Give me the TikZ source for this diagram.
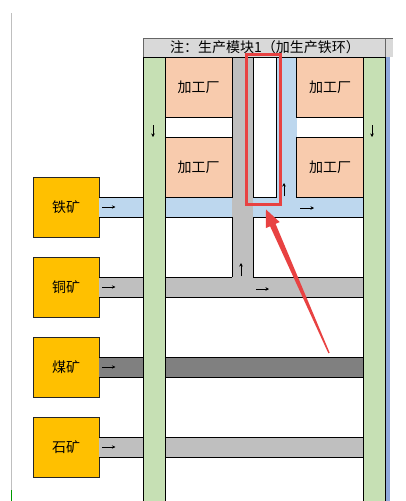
\documentclass[tikz,border=0pt]{standalone}
\usepackage{fontspec}
\setmainfont{Noto Sans CJK SC}
\usetikzlibrary{calc,positioning,arrows.meta}
\definecolor{hdgray}{RGB}{217,217,217}
\definecolor{lanegreen}{RGB}{198,224,180}
\definecolor{plantpeach}{RGB}{248,203,173}
\definecolor{roadblue}{RGB}{189,215,238}
\definecolor{roadgray}{RGB}{191,191,191}
\definecolor{roaddark}{RGB}{128,128,128}
\definecolor{mineorange}{RGB}{255,192,0}
\definecolor{edgeblue}{RGB}{142,169,219}
\definecolor{markred}{RGB}{232,66,66}
\tikzset{
  cellline/.style={draw=black,line width=0.9pt},
  cjkfont/.style={font=\fontsize{14}{16}\selectfont},
  minebox/.style={draw=black!85,line width=0.9pt,fill=mineorange,minimum width=66pt,
    minimum height=60pt,inner sep=0pt,cjkfont},
  plantbox/.style={draw=black,line width=0.9pt,fill=plantpeach,minimum width=67pt,
    minimum height=60pt,inner sep=0pt,cjkfont},
  flow/.style={draw=black,line width=0.6pt,-{Stealth[length=3.5pt,width=3.5pt]}},
}
% feeder road left of the green lane, plus the mine box
\newcommand{\mine}[4]{%
  \node[minebox] (#1) at (66,{#2+10}) {#3};
  \fill[#4] (#1.east |- 0,#2) rectangle (143,{#2+20});
  \fill[#4] (165,#2) rectangle (363,{#2+20});
  \draw[cellline] (#1.east |- 0,#2) -- (143,#2) (#1.east |- 0,{#2+20}) -- (143,{#2+20});
  \draw[flow] ($(#1.east)+(3,0)$) -- ++(13,0);
}

\begin{document}
\begin{tikzpicture}[x=1pt,y=-1pt]
  \useasboundingbox (0,0) rectangle (405,501);
  \draw[black!25,line width=1pt] (11.5,13) -- (11.5,490);
  \draw[green!60!black,line width=1pt] (11.5,490) -- (11.5,501);
  % header
  \fill[hdgray] (143,38) rectangle (393,57);
  \draw[black!60,line width=0.6pt] (143,57) -- (143,38) -- (393,38);
  \draw[black!60,line width=0.6pt] (385,38) -- (385,57);
  \node[cjkfont] (note) at (265,47.5) {注：生产模块1（加生产铁环）};
  % lanes and roads
  \fill[lanegreen] (143,57) rectangle (165,501);
  \fill[lanegreen] (363,57) rectangle (385,501);
  \fill[edgeblue] (385,57) rectangle (390,501);
  \mine{iron}{197}{铁矿}{roadblue}
  \mine{copper}{277}{铜矿}{roadgray}
  \mine{coal}{357}{煤矿}{roaddark}
  \mine{stone}{437}{石矿}{roadgray}
  \fill[roadblue] (276,57) rectangle (297,197);
  \fill[roadgray] (232,57) rectangle (253,277);
  \node[plantbox] (plantA) at (198.5,87) {加工厂};
  \node[plantbox] (plantB) at (198.5,167) {加工厂};
  \node[plantbox] (plantC) at (330,87) {加工厂};
  \node[plantbox] (plantD) at (330,167) {加工厂};
  % cell borders
  \draw[cellline] (143,57) -- (385,57);
  \draw[cellline] (143,57) -- (143,501) (165,57) -- (165,501);
  \draw[cellline] (363,57) -- (363,501) (385,57) -- (385,501);
  \draw[cellline] (232,57) -- (232,197) (232,217) -- (232,277);
  \draw[cellline] (253,57) -- (253,197) (253,217) -- (253,277);
  \draw[cellline] (276,57) -- (276,197) -- (253,197);
  \draw[cellline] (165,217) -- (232,217) (253,217) -- (363,217);
  \draw[cellline] (165,277) -- (232,277) (253,277) -- (363,277);
  \draw[cellline] (165,297) -- (363,297);
  \draw[cellline] (165,357) -- (363,357) (165,377) -- (363,377);
  \draw[cellline] (165,437) -- (363,437) (165,457) -- (363,457);
  % direction marks
  \draw[flow] (153,125) -- (153,137);
  \draw[flow] (372,125) -- (372,137);
  \draw[flow] (284,196) -- (284,183);
  \draw[flow] (241,276) -- (241,263);
  \draw[flow] (300,208) -- (314,208);
  \draw[flow] (256,289) -- (269,289);
  % highlight
  \node[draw=markred,line width=3pt,minimum width=34pt,minimum height=150pt,
    inner sep=0pt] (hl) at (263.5,129.5) {};
  \coordinate (tail) at (329,353);
  \coordinate (tip) at ($(hl.south)+(2.5,3.5)$);
  \coordinate (neck) at ($(tip)!17pt!(tail)$);
  \fill[markred] ($(tail)!0.7pt!90:(tip)$) -- ($(neck)!3pt!-90:(tail)$)
    -- ($(neck)!7.5pt!-90:(tail)$) -- (tip) -- ($(neck)!7.5pt!90:(tail)$)
    -- ($(neck)!3pt!90:(tail)$) -- ($(tail)!0.7pt!-90:(tip)$) -- cycle;
\end{tikzpicture}
\end{document}
